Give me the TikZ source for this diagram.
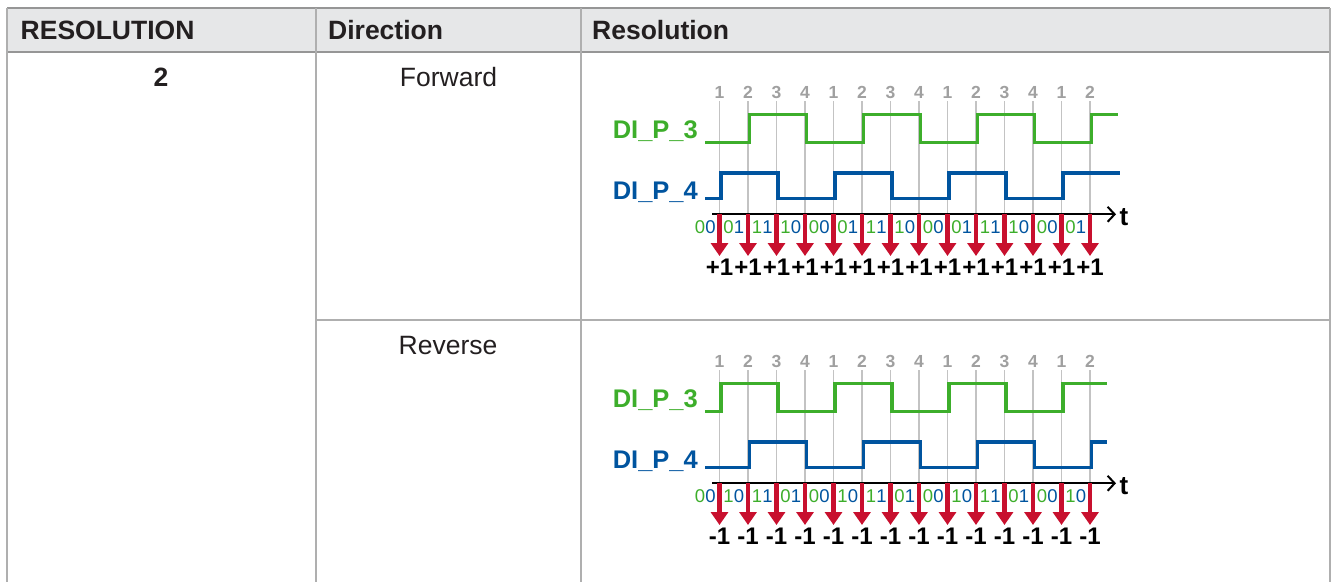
\documentclass[tikz,border=0pt]{standalone}
\usepackage{fontspec}
\setmainfont{Liberation Sans}
\usetikzlibrary{arrows.meta}

\definecolor{sigGreen}{RGB}{61,174,43}
\definecolor{sigBlue}{RGB}{0,84,159}
\definecolor{pulseRed}{RGB}{200,16,46}
\definecolor{tickGray}{RGB}{160,160,160}
\definecolor{gridGray}{RGB}{195,195,195}
\definecolor{headFill}{RGB}{230,231,232}
\definecolor{ruleGray}{RGB}{175,175,175}
\definecolor{headRule}{RGB}{150,150,150}
\definecolor{inkBlack}{RGB}{35,31,32}

\newcommand{\bitpair}[2]{\textcolor{sigGreen}{#1}\textcolor{sigBlue}{#2}}

\tikzset{
  tablerule/.style={draw=ruleGray, line width=1.8pt},
  headtxt/.style={font=\fontsize{26.5}{30}\selectfont\bfseries, text=inkBlack, inner sep=0pt, anchor=base west},
  celltxt/.style={font=\fontsize{26.5}{30}\selectfont, text=inkBlack, inner sep=0pt, anchor=base},
  sigcaption/.style={font=\fontsize{25.5}{28}\selectfont\bfseries, inner sep=0pt, anchor=base east},
  sigline/.style={line width=3.5pt},
  tickline/.style={draw=gridGray, line width=1.5pt},
  ticknum/.style={font=\fontsize{17.5}{19}\selectfont\bfseries, text=tickGray, inner sep=0pt, anchor=base},
  timeaxis/.style={draw=black, line width=2pt, -{Straight Barb[length=7pt,width=15pt,line width=2pt]}},
  pulsearrow/.style={draw=pulseRed, line width=4.5pt, -{Triangle[length=13pt,width=17pt]}},
  codelbl/.style={font=\fontsize{18.5}{20}\selectfont, inner sep=0pt, anchor=base},
  countlbl/.style={font=\fontsize{24}{26}\selectfont\bfseries, text=black, inner sep=0pt, anchor=base},
  tlabel/.style={font=\fontsize{26}{28}\selectfont\bfseries, inner sep=0pt, anchor=base west},
}

\begin{document}
\begin{tikzpicture}[x=1pt,y=-1pt]
  \useasboundingbox (0,0) rectangle (1331,582);

  % table frame
  \fill[headFill] (7,8) rectangle (1330,52);
  \draw[tablerule, draw=headRule] (7,8) -- (1330,8);
  \draw[tablerule, draw=headRule, line width=2.4pt] (7,52) -- (1330,52);
  \draw[tablerule] (7,8) -- (7,582);
  \draw[tablerule] (316,8) -- (316,582);
  \draw[tablerule] (581,8) -- (581,582);
  \draw[tablerule] (1330,8) -- (1330,582);
  \draw[tablerule] (316,320) -- (1330,320);

  \node[headtxt] (hresol) at (20.5,39.5) {RESOLUTION};
  \node[headtxt] (hdir) at (328,39.5) {Direction};
  \node[headtxt] (hres) at (592,39.5) {Resolution};
  \node[celltxt, font=\fontsize{26.5}{30}\selectfont\bfseries] (resval) at (161,86) {2};
  \node[celltxt] (fwd) at (448.5,86) {Forward};
  \node[celltxt] (rev) at (448,354) {Reverse};

  % forward
  \foreach \n [count=\k from 0] in {1,2,3,4,1,2,3,4,1,2,3,4,1,2} {
    \draw[tickline] (719.5+28.5*\k,101) -- (719.5+28.5*\k,214);
    \node[ticknum] (fnum\k) at (719.5+28.5*\k,98.5) {\n};
  }
  \node[sigcaption, text=sigGreen] (fp3) at (698,138.3) {DI\_P\_3};
  \node[sigcaption, text=sigBlue] (fp4) at (698,199) {DI\_P\_4};
  \draw[sigline, sigGreen] (705,142.5) -| (749.5,114.5) -| (806.5,142.5) -| (863.5,114.5) -| (920.5,142.5)
    -| (977.5,114.5) -| (1034.5,142.5) -| (1091.5,114.5) -- (1118,114.5);
  \draw[sigline, sigBlue] (705,198.5) -| (721,173) -| (778,198.5) -| (835,173) -| (892,198.5)
    -| (949,173) -| (1006,198.5) -| (1063,173) -- (1120,173);
  \draw[timeaxis] (712,214.3) -- (1116,214.3);
  \node[tlabel] (ft) at (1119.5,225) {t};
  \foreach \a/\b [count=\k from 0] in {0/0,0/1,1/1,1/0,0/0,0/1,1/1,1/0,0/0,0/1,1/1,1/0,0/0,0/1}
    \node[codelbl] (fcode\k) at (705.25+28.5*\k,233.3) {\bitpair{\a}{\b}};
  \foreach \k in {0,...,13} {
    \draw[pulsearrow] (719.5+28.5*\k,214) -- (719.5+28.5*\k,256);
    \node[countlbl] (fcnt\k) at (719.5+28.5*\k,275.5) {+1};
  }

  % reverse
  \begin{scope}[yshift=-269pt]
    \foreach \n [count=\k from 0] in {1,2,3,4,1,2,3,4,1,2,3,4,1,2} {
      \draw[tickline] (719.5+28.5*\k,101) -- (719.5+28.5*\k,214);
      \node[ticknum] (rnum\k) at (719.5+28.5*\k,98.5) {\n};
    }
    \node[sigcaption, text=sigGreen] (rp3) at (698,138.3) {DI\_P\_3};
    \node[sigcaption, text=sigBlue] (rp4) at (698,199) {DI\_P\_4};
    \draw[sigline, sigGreen] (705,142.5) -| (721,114.5) -| (778,142.5) -| (835,114.5) -| (892,142.5)
      -| (949,114.5) -| (1006,142.5) -| (1063,114.5) -- (1107,114.5);
    \draw[sigline, sigBlue] (705,198.5) -| (749.5,173) -| (806.5,198.5) -| (863.5,173) -| (920.5,198.5)
      -| (977.5,173) -| (1034.5,198.5) -| (1091.5,173) -- (1107,173);
    \draw[timeaxis] (712,214.3) -- (1116,214.3);
    \node[tlabel] (rt) at (1119.5,225) {t};
    \foreach \a/\b [count=\k from 0] in {0/0,1/0,1/1,0/1,0/0,1/0,1/1,0/1,0/0,1/0,1/1,0/1,0/0,1/0}
      \node[codelbl] (rcode\k) at (705.25+28.5*\k,233.3) {\bitpair{\a}{\b}};
    \foreach \k in {0,...,13} {
      \draw[pulsearrow] (719.5+28.5*\k,214) -- (719.5+28.5*\k,256);
      \node[countlbl] (rcnt\k) at (719.5+28.5*\k,275.5) {-1};
    }
  \end{scope}
\end{tikzpicture}
\end{document}
